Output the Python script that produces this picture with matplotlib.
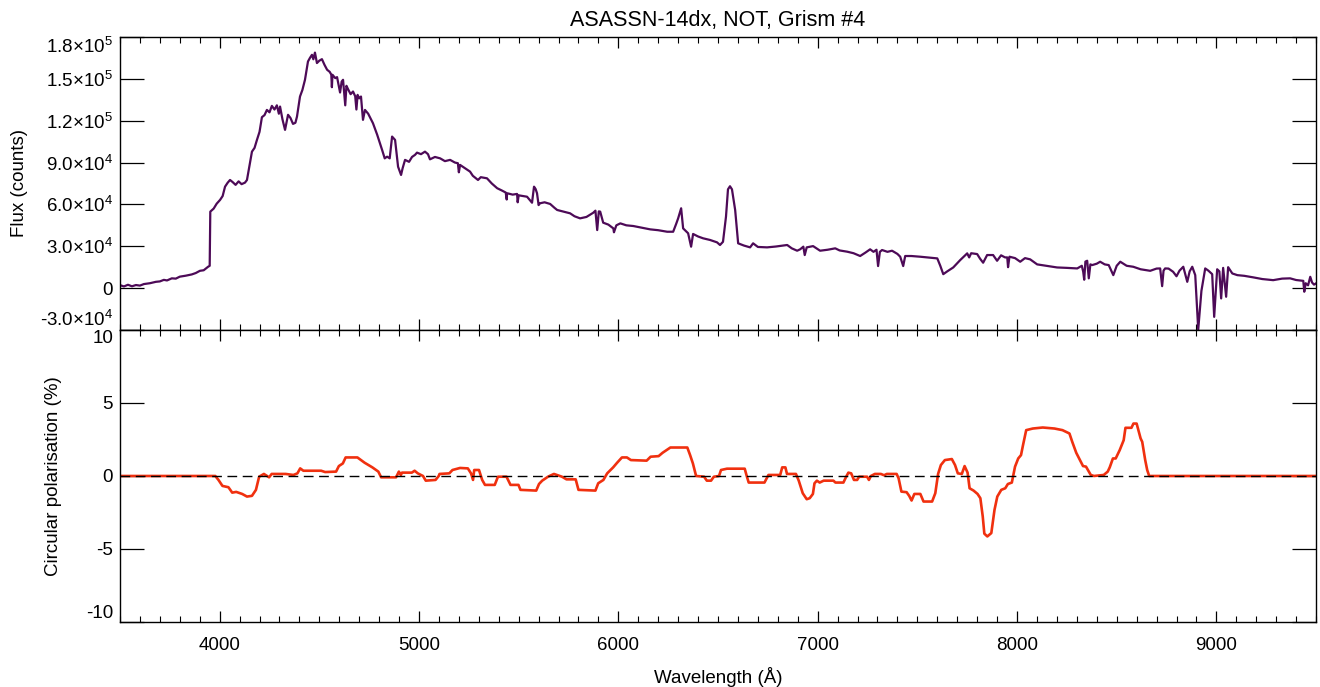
import numpy as np
import matplotlib
matplotlib.use('Agg')
import matplotlib.pyplot as plt
from matplotlib.ticker import MultipleLocator

plt.rcParams['font.family'] = ['Liberation Sans', 'DejaVu Sans']
plt.rcParams['mathtext.fontset'] = 'custom'
plt.rcParams['mathtext.rm'] = 'Liberation Sans'
plt.rcParams['mathtext.default'] = 'regular'

# Spectrum
wave = [3500, 3520, 3540, 3560, 3580, 3600, 3620, 3650, 3680, 3700, 3720, 3736, 3760, 3780,
        3800, 3830, 3860, 3880, 3901, 3920, 3942, 3950, 3953, 3970, 3985, 4002, 4015, 4027,
        4040, 4052, 4065, 4080, 4095, 4110, 4127, 4137, 4150, 4162, 4175, 4187, 4200, 4212,
        4225, 4237, 4250, 4262, 4275, 4287, 4297, 4303, 4315, 4328, 4343, 4355, 4368, 4380,
        4388, 4403, 4415, 4428, 4443, 4453, 4463, 4470, 4478, 4488, 4500, 4513, 4526, 4539,
        4552, 4560, 4563, 4566, 4580, 4589, 4604, 4612, 4619, 4630, 4636, 4644, 4657, 4669,
        4680, 4686, 4692, 4700, 4709, 4719, 4729, 4745, 4769, 4790, 4815, 4828, 4840, 4853,
        4865, 4875, 4880, 4895, 4910, 4918, 4930, 4950, 4965, 4980, 4990, 5010, 5030, 5045,
        5055, 5080, 5106, 5130, 5156, 5180, 5195, 5200, 5206, 5230, 5256, 5270, 5296, 5310,
        5341, 5365, 5392, 5415, 5435, 5440, 5442, 5470, 5492, 5495, 5500, 5520, 5542, 5567,
        5577, 5585, 5592, 5600, 5607, 5630, 5658, 5680, 5693, 5720, 5758, 5780, 5808, 5840,
        5874, 5885, 5894, 5902, 5909, 5924, 5950, 5975, 5978, 5990, 6010, 6040, 6075, 6110,
        6160, 6200, 6245, 6275, 6290, 6300, 6315, 6325, 6350, 6365, 6375, 6400, 6425, 6460,
        6495, 6510, 6525, 6540, 6550, 6560, 6570, 6586, 6601, 6630, 6661, 6676, 6700, 6746,
        6790, 6847, 6870, 6897, 6912, 6928, 6935, 6945, 6977, 7012, 7050, 7088, 7110, 7148,
        7180, 7213, 7240, 7263, 7280, 7295, 7303, 7312, 7323, 7350, 7373, 7400, 7414, 7429,
        7439, 7470, 7514, 7550, 7600, 7615, 7630, 7650, 7680, 7715, 7750, 7760, 7770, 7800,
        7815, 7830, 7850, 7880, 7900, 7920, 7940, 7951, 7955, 7962, 7990, 8016, 8040, 8066,
        8101, 8150, 8201, 8250, 8302, 8325, 8332, 8337, 8343, 8352, 8360, 8368, 8377, 8400,
        8417, 8440, 8460, 8483, 8500, 8518, 8550, 8583, 8620, 8668, 8700, 8718, 8728, 8735,
        8743, 8760, 8783, 8800, 8815, 8834, 8854, 8866, 8879, 8894, 8909, 8925, 8944, 8960,
        8979, 8989, 9004, 9015, 9024, 9034, 9049, 9059, 9080, 9105, 9140, 9185, 9230, 9285,
        9330, 9370, 9400, 9436, 9441, 9448, 9460, 9471, 9480, 9490, 9500]
flux = [2100, 1200, 2400, 1300, 2200, 1800, 2900, 3500, 4500, 4800, 5900, 5500, 7000, 6800,
        8200, 8900, 9800, 10800, 12400, 12800, 15300, 16000, 54800, 57000, 60500, 63200, 66000, 72700,
        75500, 77500, 76000, 74000, 76500, 74500, 75600, 77500, 88000, 97800, 100500, 106200, 112000, 122500,
        124000, 127700, 126000, 130600, 128000, 131000, 125000, 130100, 121000, 113400, 124200, 122000, 117700, 118500,
        123000, 137300, 142000, 149300, 162400, 165000, 167200, 164000, 168800, 161300, 163000, 164100, 160000, 156500,
        155000, 153000, 144000, 152900, 150500, 151200, 140200, 148000, 149300, 131000, 145000, 142600, 139000, 140900,
        137500, 128000, 138500, 136000, 137300, 120600, 127700, 125000, 118200, 110000, 99000, 93000, 94200, 93000,
        108600, 107000, 106200, 87000, 81100, 86000, 91900, 90500, 94000, 95500, 97100, 96000, 97800, 96000,
        92300, 94000, 93000, 91000, 91900, 90000, 89500, 83000, 88300, 86000, 83500, 80500, 77500, 79500,
        78700, 75000, 71600, 70000, 68500, 63500, 68000, 67000, 67500, 61500, 66500, 66000, 65500, 61200,
        72700, 71000, 68000, 59500, 60800, 61500, 60300, 57500, 56000, 55000, 53600, 51500, 50000, 51000,
        54000, 55500, 41600, 55000, 54800, 46900, 45500, 42800, 40000, 45000, 46400, 45000, 44500, 43500,
        42100, 41500, 40400, 40400, 46000, 50000, 57200, 42800, 39300, 29700, 38800, 37000, 35700, 34500,
        32800, 30900, 33200, 51200, 70800, 73000, 70800, 56000, 32100, 30500, 29200, 32100, 29500, 29200,
        29800, 30900, 28500, 26800, 27800, 29700, 23700, 29200, 30100, 26800, 27500, 28500, 27000, 26100,
        25000, 23000, 25500, 27800, 26000, 27500, 15800, 26000, 27300, 26000, 26800, 24500, 22500, 15800,
        23000, 23000, 22500, 22000, 21300, 16000, 10000, 12000, 14800, 20100, 24900, 22000, 25000, 24400,
        21000, 18200, 23700, 23700, 19600, 23500, 22000, 22000, 15000, 22500, 21500, 18900, 21500, 20600,
        17000, 15900, 14800, 14500, 14100, 16000, 11700, 6000, 19000, 19600, 7000, 17000, 16500, 17500,
        18900, 17000, 16500, 9300, 16000, 18900, 16000, 15300, 13500, 12400, 14000, 14100, 1400, 12500,
        14100, 14000, 11700, 8500, 12500, 15300, 4500, 12000, 15300, 9300, -29700, -2000, 14100, 12500,
        10000, -20600, 13500, 12000, -7400, 14500, -6200, 15000, 10500, 9300, 8800, 7700, 6500, 5700,
        6800, 7000, 5800, 5200, -2600, 3500, 2000, 8100, 4000, 2500, 3400]

# Circular polarisation (%)
pol_wave = [3500, 3978, 3994, 4014, 4044, 4063, 4083, 4113, 4137, 4162, 4182, 4198, 4222, 4248,
            4261, 4331, 4370, 4390, 4404, 4420, 4509, 4529, 4584, 4598, 4618, 4632, 4691, 4727,
            4766, 4796, 4810, 4885, 4899, 4909, 4915, 4964, 4978, 4994, 5020, 5034, 5083, 5099,
            5103, 5152, 5168, 5206, 5245, 5261, 5271, 5277, 5301, 5317, 5331, 5380, 5396, 5439,
            5459, 5499, 5509, 5588, 5602, 5618, 5647, 5677, 5717, 5740, 5786, 5800, 5885, 5899,
            5925, 5944, 5974, 5994, 6018, 6043, 6063, 6142, 6162, 6202, 6222, 6261, 6346, 6360,
            6374, 6390, 6430, 6444, 6465, 6479, 6505, 6515, 6545, 6634, 6644, 6654, 6733, 6753,
            6812, 6822, 6838, 6846, 6891, 6905, 6925, 6945, 6960, 6976, 6984, 6996, 7010, 7030,
            7079, 7089, 7129, 7143, 7154, 7168, 7182, 7198, 7208, 7248, 7257, 7267, 7287, 7317,
            7333, 7347, 7396, 7406, 7420, 7446, 7459, 7471, 7485, 7515, 7531, 7574, 7590, 7604,
            7618, 7638, 7673, 7689, 7703, 7723, 7737, 7752, 7762, 7782, 7802, 7816, 7828, 7836,
            7851, 7871, 7887, 7901, 7921, 7941, 7954, 7974, 7990, 8006, 8020, 8030, 8046, 8079,
            8129, 8188, 8228, 8263, 8277, 8297, 8317, 8331, 8346, 8370, 8386, 8435, 8455, 8465,
            8481, 8495, 8515, 8535, 8544, 8574, 8584, 8600, 8620, 8628, 8643, 8653, 8663, 9500]
pol = [0, 0, -0.27, -0.68, -0.77, -1.14, -1.09, -1.23, -1.41, -1.36, -0.95, -0.05, 0.14, -0.09,
       0.14, 0.14, 0.07, 0.18, 0.52, 0.36, 0.36, 0.27, 0.30, 0.68, 0.86, 1.27, 1.27, 0.91,
       0.59, 0.30, -0.09, -0.09, 0.30, 0.07, 0.23, 0.23, 0.36, 0.18, 0.0, -0.32, -0.27, 0.0,
       0.14, 0.18, 0.41, 0.55, 0.52, 0.18, -0.27, 0.41, 0.41, -0.27, -0.61, -0.61, -0.05, -0.05,
       -0.61, -0.61, -0.95, -1.0, -0.55, -0.32, -0.05, 0.14, -0.05, -0.23, -0.23, -0.95, -1.0, -0.5,
       -0.27, 0.18, 0.59, 0.91, 1.27, 1.27, 1.09, 1.05, 1.32, 1.36, 1.59, 1.95, 1.95, 1.43,
       0.86, 0.0, -0.05, -0.32, -0.32, -0.05, 0.0, 0.41, 0.5, 0.5, 0.0, -0.45, -0.45, 0.07,
       0.07, 0.59, 0.59, 0.14, 0.14, -0.32, -1.18, -1.59, -1.52, -1.23, -0.5, -0.32, -0.45, -0.32,
       -0.32, -0.45, -0.45, -0.05, 0.23, 0.18, -0.27, -0.27, -0.05, -0.05, -0.27, 0.0, 0.14, 0.14,
       0.05, 0.14, 0.14, -0.16, -1.07, -1.11, -1.36, -1.68, -1.23, -1.23, -1.75, -1.75, -1.18, 0.14,
       0.75, 1.09, 1.16, 0.75, 0.18, 0.14, 0.68, 0.23, -0.84, -1.0, -1.23, -1.52, -2.77, -3.95,
       -4.14, -3.91, -2.32, -1.41, -0.95, -0.84, -0.55, -0.45, 0.64, 1.2, 1.43, 2.11, 3.14, 3.25,
       3.32, 3.25, 3.14, 2.91, 2.34, 1.59, 1.05, 0.68, 0.64, 0.07, 0.0, 0.07, 0.30, 0.59,
       1.2, 1.2, 1.77, 2.45, 3.3, 3.3, 3.59, 3.59, 2.57, 2.34, 1.09, 0.41, 0.0, 0.0]

flux_ticks = [-3e4, 0, 3e4, 6e4, 9e4, 1.2e5, 1.5e5, 1.8e5]
pol_ticks = [-10, -5, 0, 5, 10]
wave_ticks = [4000, 5000, 6000, 7000, 8000, 9000]


def sci_label(v):
    if v == 0:
        return '0'
    e = int(np.floor(np.log10(abs(v))))
    m = v / 10 ** e
    return r'%.1f×10$^{%d}$' % (m, e)


fig = plt.figure(figsize=(13.2, 6.87), dpi=100)
ax1 = fig.add_axes([0.0909, 0.5197, 0.9061, 0.4265])
ax2 = fig.add_axes([0.0909, 0.0946, 0.9061, 0.4251])

ax1.plot(wave, flux, color='#4d0a57', lw=1.6)
ax2.plot(pol_wave, pol, color='#f0300f', lw=1.9)
ax2.axhline(0, color='black', lw=1.0, dashes=(7, 4))

for ax in (ax1, ax2):
    ax.set_xlim(3500, 9500)
    ax.set_xticks(wave_ticks)
    ax.xaxis.set_minor_locator(MultipleLocator(100))
    ax.tick_params(axis='both', which='both', direction='in', top=True, right=True,
                   labelsize=13.5, colors='black')
    ax.tick_params(axis='x', which='major', length=8, width=0.9, pad=11)
    ax.tick_params(axis='x', which='minor', length=4, width=0.8)
    ax.tick_params(axis='y', which='major', length=17, width=0.9, pad=5)
    for s in ax.spines.values():
        s.set_linewidth(1.0)

ax1.set_ylim(-3e4, 1.8e5)
ax1.set_yticks(flux_ticks)
ax1.set_yticklabels([sci_label(v) for v in flux_ticks])
ax1.tick_params(labelbottom=False)
ax1.set_ylabel('Flux (counts)', fontsize=13.5)
ax1.yaxis.set_label_coords(-0.0765, 0.5)
ax1.set_title('ASASSN-14dx, NOT, Grism #4', fontsize=15.5, pad=8)

ax2.set_ylim(-10, 10)
ax2.set_yticks(pol_ticks)
ax2.set_yticklabels([str(v) for v in pol_ticks])
ax2.set_ylabel('Circular polarisation (%)', fontsize=13.5)
ax2.yaxis.set_label_coords(-0.0485, 0.5)
ax2.set_xlabel('Wavelength (Å)', fontsize=13.5, labelpad=9)

# end labels shifted inward like the original
for ax in (ax1, ax2):
    labs = ax.get_yticklabels()
    labs[0].set_verticalalignment('bottom')
    labs[-1].set_verticalalignment('top')

fig.savefig('out.png', dpi=100)
